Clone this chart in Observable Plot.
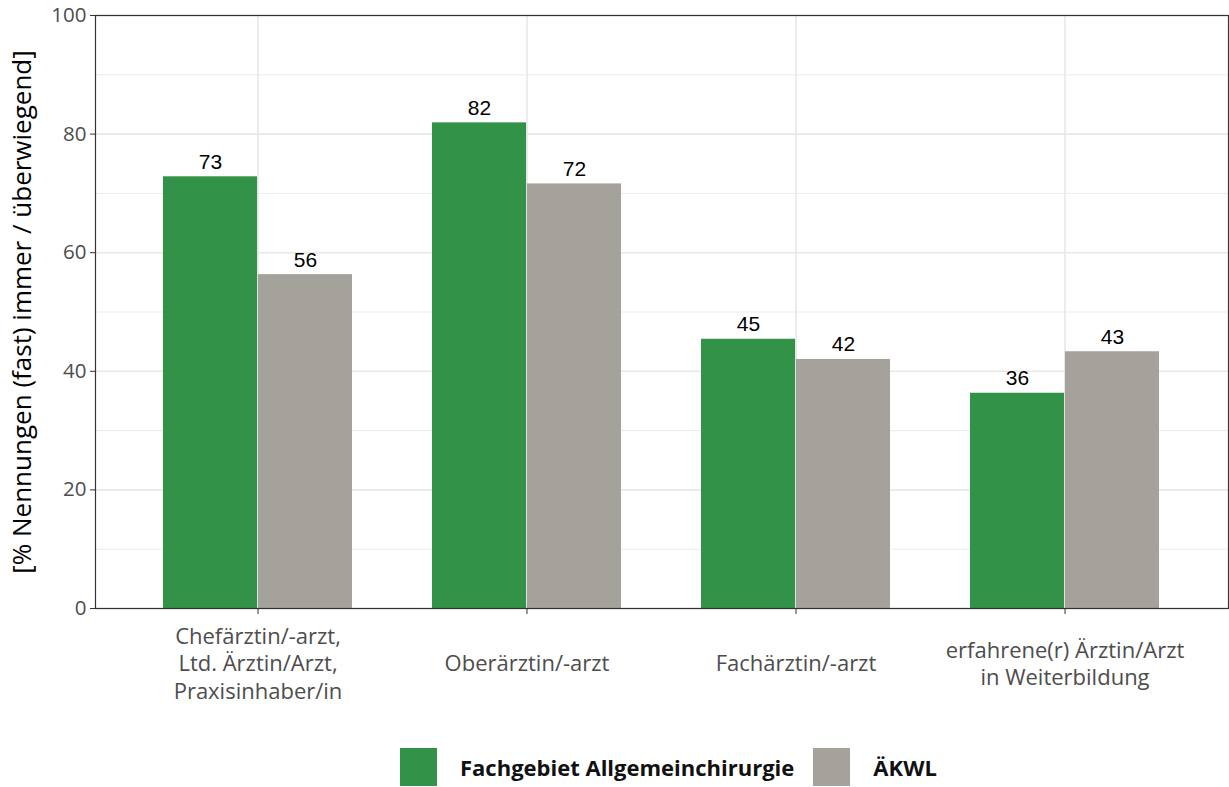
<!DOCTYPE html>
<html>
<head>
<meta charset="utf-8">
<script src="https://cdn.jsdelivr.net/npm/d3@7"></script>
<script src="https://cdn.jsdelivr.net/npm/@observablehq/plot@0.6"></script>
<style>
  body { margin: 0; background: #fff; }
  #wrap { position: relative; width: 1229px; height: 787px; }
  #legend { position: absolute; left: 400px; top: 748px; display: flex; align-items: center;
            font-family: "Open Sans", sans-serif; font-weight: bold; font-size: 22px; color: #111; }
  .sw { width: 37px; height: 38px; display: inline-block; }
</style>
</head>
<body>
<div id="wrap">
  <div id="chart"></div>
  <div id="legend"></div>
</div>
<script>
const categories = [
  "Chefärztin/-arzt,\nLtd. Ärztin/Arzt,\nPraxisinhaber/in",
  "Oberärztin/-arzt",
  "Fachärztin/-arzt",
  "erfahrene(r) Ärztin/Arzt\nin Weiterbildung"
];
const series = ["Fachgebiet Allgemeinchirurgie", "ÄKWL"];
const valuesAllgemein = [72.8, 81.9, 45.4, 36.3];
const valuesAekwl = [56.3, 71.6, 42.0, 43.3];
const yTicks = [0, 20, 40, 60, 80, 100];
const yMinorTicks = [10, 30, 50, 70, 90];
const yTitle = "[% Nennungen (fast) immer / überwiegend]";
const colors = ["#329248", "#a5a29b"];

const data = [];
categories.forEach((c, i) => {
  data.push({cat: c, series: series[0], value: valuesAllgemein[i]});
  data.push({cat: c, series: series[1], value: valuesAekwl[i]});
});

const W = 1229, H = 712;
const mL = 95, mR = 1, mT = 15, mB = 104;
const pIn = 0.296, pOut = 0.248;
const step = (W - mL - mR) / (categories.length - pIn + 2 * pOut);
const half = step * (1 - pIn) / 2;

const fmt = d3.format(".0f");
const green = data.filter(d => d.series === series[0]);
const grey = data.filter(d => d.series === series[1]);
const sansUI = "'Open Sans', sans-serif";

const chart = Plot.plot({
  width: W, height: H,
  marginLeft: mL, marginRight: mR, marginTop: mT, marginBottom: mB,
  style: {fontFamily: "'Liberation Sans', Arial, sans-serif", background: "#fff"},
  x: {domain: categories, paddingInner: pIn, paddingOuter: pOut, label: null},
  y: {domain: [0, 100], label: null},
  marks: [
    Plot.gridY(yMinorTicks, {stroke: "#ebebeb", strokeOpacity: 1, strokeWidth: 1}),
    Plot.gridY(yTicks, {stroke: "#e8e8e8", strokeOpacity: 1, strokeWidth: 1.6}),
    Plot.gridX(categories, {stroke: "#e8e8e8", strokeOpacity: 1, strokeWidth: 1.6}),
    Plot.barY(green, {x: "cat", y: "value", fill: colors[0], insetLeft: 0, insetRight: half}),
    Plot.barY(grey, {x: "cat", y: "value", fill: colors[1], insetLeft: half, insetRight: 0}),
    Plot.text(green, {x: "cat", y: "value", text: d => fmt(d.value), dx: -half / 2, dy: -8,
      lineAnchor: "bottom", fontSize: 21, fill: "#000"}),
    Plot.text(grey, {x: "cat", y: "value", text: d => fmt(d.value), dx: half / 2, dy: -8,
      lineAnchor: "bottom", fontSize: 21, fill: "#000"}),
    Plot.frame({stroke: "#333", strokeWidth: 1.2}),
    Plot.axisY(yTicks, {tickSize: 5, tickPadding: 4, fontSize: 20.5, color: "#4d4d4d", label: null,
      stroke: "#333", fontFamily: sansUI}),
    Plot.axisX({tickSize: 6, tickFormat: () => "", label: null, stroke: "#333"}),
    Plot.text(categories, {x: d => d, frameAnchor: "bottom", dy: 54, lineAnchor: "middle",
      lineHeight: 1.25, fontSize: 22, fill: "#4d4d4d", fontFamily: sansUI}),
    Plot.text([yTitle], {frameAnchor: "left", dx: -73, rotate: -90, textAnchor: "middle",
      fontSize: 26, fill: "#000", fontFamily: sansUI})
  ]
});
document.getElementById("chart").appendChild(chart);

const legend = document.getElementById("legend");
series.forEach((s, i) => {
  const sw = document.createElement("span");
  sw.className = "sw";
  sw.style.background = colors[i];
  sw.style.marginRight = "23px";
  legend.appendChild(sw);
  const t = document.createElement("span");
  t.textContent = s;
  t.style.marginRight = i === 0 ? "19px" : "0";
  legend.appendChild(t);
});
</script>
</body>
</html>
